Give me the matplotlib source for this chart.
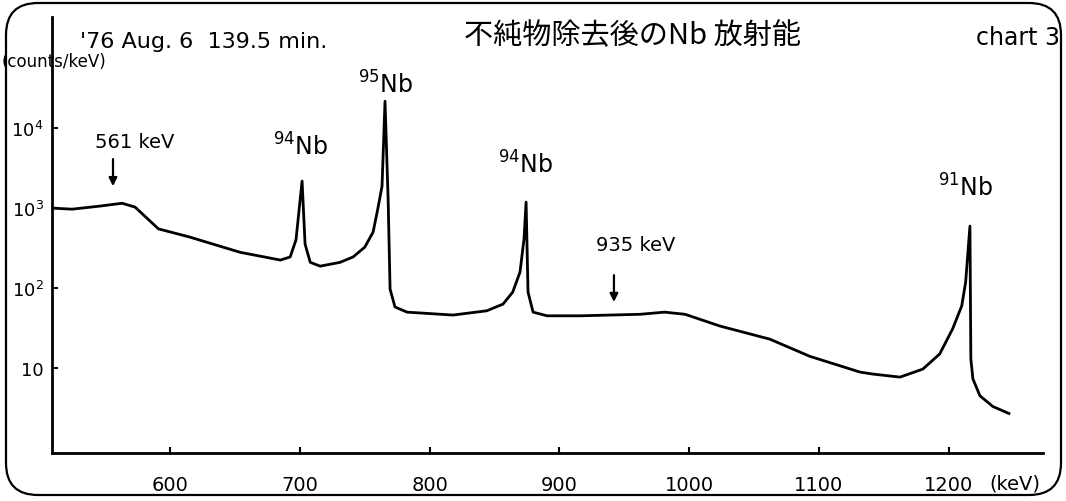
import matplotlib
matplotlib.use("Agg")
import matplotlib.pyplot as plt
from matplotlib.patches import FancyBboxPatch

plt.rcParams['font.family'] = ['DejaVu Sans', 'Noto Sans CJK JP']

# ---- data (energy in keV, counts/keV) ----
energy = [509, 524.5, 546, 563, 573, 591, 615, 654, 685, 692.5, 697, 701.7,
          704, 708, 715.6, 731, 741, 750, 756.4, 760, 763.3, 765.6, 768,
          769.5, 773.3, 782.6, 818, 844, 856.5, 864, 869.6, 872.7, 874.3,
          875.8, 879.7, 890.4, 916, 962, 981, 996.8, 1023.7, 1062, 1093,
          1131.6, 1141.6, 1162.4, 1180, 1193, 1203, 1210, 1213, 1216.3,
          1217, 1218.6, 1224, 1234, 1246.4]
counts = [1000, 970, 1060, 1150, 1030, 550, 435, 280, 224, 245, 400, 2180,
          355, 210, 188, 210, 245, 325, 500, 970, 1880, 21700, 1290,
          97, 58, 50, 46, 52, 63, 89, 158, 410, 1190,
          89, 50, 45, 45, 47, 50, 47, 33.5, 23, 14,
          8.9, 8.4, 7.7, 9.7, 15, 31, 60, 119, 596,
          13, 7.3, 4.5, 3.3, 2.7]

x_ticks = [600, 700, 800, 900, 1000, 1100, 1200]
x_tick_labels = ["600", "700", "800", "900", "1000", "1100", "1200"]
y_ticks = [10, 100, 1000, 10000]
y_tick_labels = ["10", r"$10^{2}$", r"$10^{3}$", r"$10^{4}$"]

peak_labels = [r"$^{94}$Nb", r"$^{95}$Nb", r"$^{94}$Nb", r"$^{91}$Nb"]
peak_label_energies = [701, 766, 874, 1213]
peak_label_counts = [6000, 36000, 3600, 1850]

arrow_labels = ["561 keV", "935 keV"]
arrow_energies = [556, 942]
arrow_tops = [4100, 145]
arrow_tips = [1880, 67]
arrow_label_energies = [542.5, 928]
arrow_label_counts = [6900, 355]

title_text = "不純物除去後のNb 放射能"
date_text = "'76 Aug. 6  139.5 min."
chart_text = "chart 3"
ylabel_text = "(counts/keV)"

# ---- figure ----
W, H = 1066, 502
fig = plt.figure(figsize=(W / 100, H / 100), dpi=100)
ax = fig.add_axes([52 / W, 1 - 454 / H, (1043 - 52) / W, (454 - 18) / H])

ax.plot(energy, counts, color="black", lw=2.0, solid_joinstyle="round")
ax.set_yscale("log")
ax.set_xlim(509, 1272.6)
ax.set_ylim(10 ** -0.0625, 10 ** 5.39)

for s in ["top", "right"]:
    ax.spines[s].set_visible(False)
for s in ["left", "bottom"]:
    ax.spines[s].set_linewidth(2.0)
    ax.spines[s].set_color("black")

ax.set_xticks(x_ticks)
ax.set_xticklabels(x_tick_labels, fontsize=14)
ax.set_yticks(y_ticks)
ax.set_yticklabels(y_tick_labels, fontsize=13)
ax.yaxis.set_minor_locator(matplotlib.ticker.NullLocator())
ax.tick_params(axis="x", direction="in", length=4, width=1.5, pad=16)
ax.tick_params(axis="y", direction="in", length=4, width=1.5, pad=6)

fig.text(1040 / W, 1 - 484 / H, "(keV)", fontsize=14, ha="right", va="center")

# peak labels
for lab, e, c in zip(peak_labels, peak_label_energies, peak_label_counts):
    ax.text(e, c, lab, fontsize=17, ha="center", va="center")

# arrows
for lab, e, ct, cb, le, lc in zip(arrow_labels, arrow_energies, arrow_tops,
                                  arrow_tips, arrow_label_energies,
                                  arrow_label_counts):
    ax.annotate("", xy=(e, cb), xytext=(e, ct),
                arrowprops=dict(arrowstyle="-|>", color="black", lw=1.6,
                                mutation_scale=12, shrinkA=0, shrinkB=0))
    ax.text(le, lc, lab, fontsize=14, ha="left", va="center")

# header texts
fig.text(80 / W, 1 - 42 / H, date_text, fontsize=16, ha="left", va="center")
fig.text(632 / W, 1 - 36 / H, title_text, fontsize=21, ha="center", va="center",
         family=["Noto Sans CJK JP", "DejaVu Sans"])
fig.text(1060 / W, 1 - 38 / H, chart_text, fontsize=17, ha="right", va="center")
fig.text(2 / W, 1 - 62 / H, ylabel_text, fontsize=12, ha="left", va="center")

# rounded frame
frame = FancyBboxPatch((6 / W, 6 / H), (W - 11) / W, (H - 10) / H,
                       boxstyle="round,pad=0,rounding_size=0.03",
                       transform=fig.transFigure, fill=False,
                       edgecolor="black", lw=1.6, mutation_aspect=W / H)
fig.patches.append(frame)

fig.savefig("out.png", dpi=100)
